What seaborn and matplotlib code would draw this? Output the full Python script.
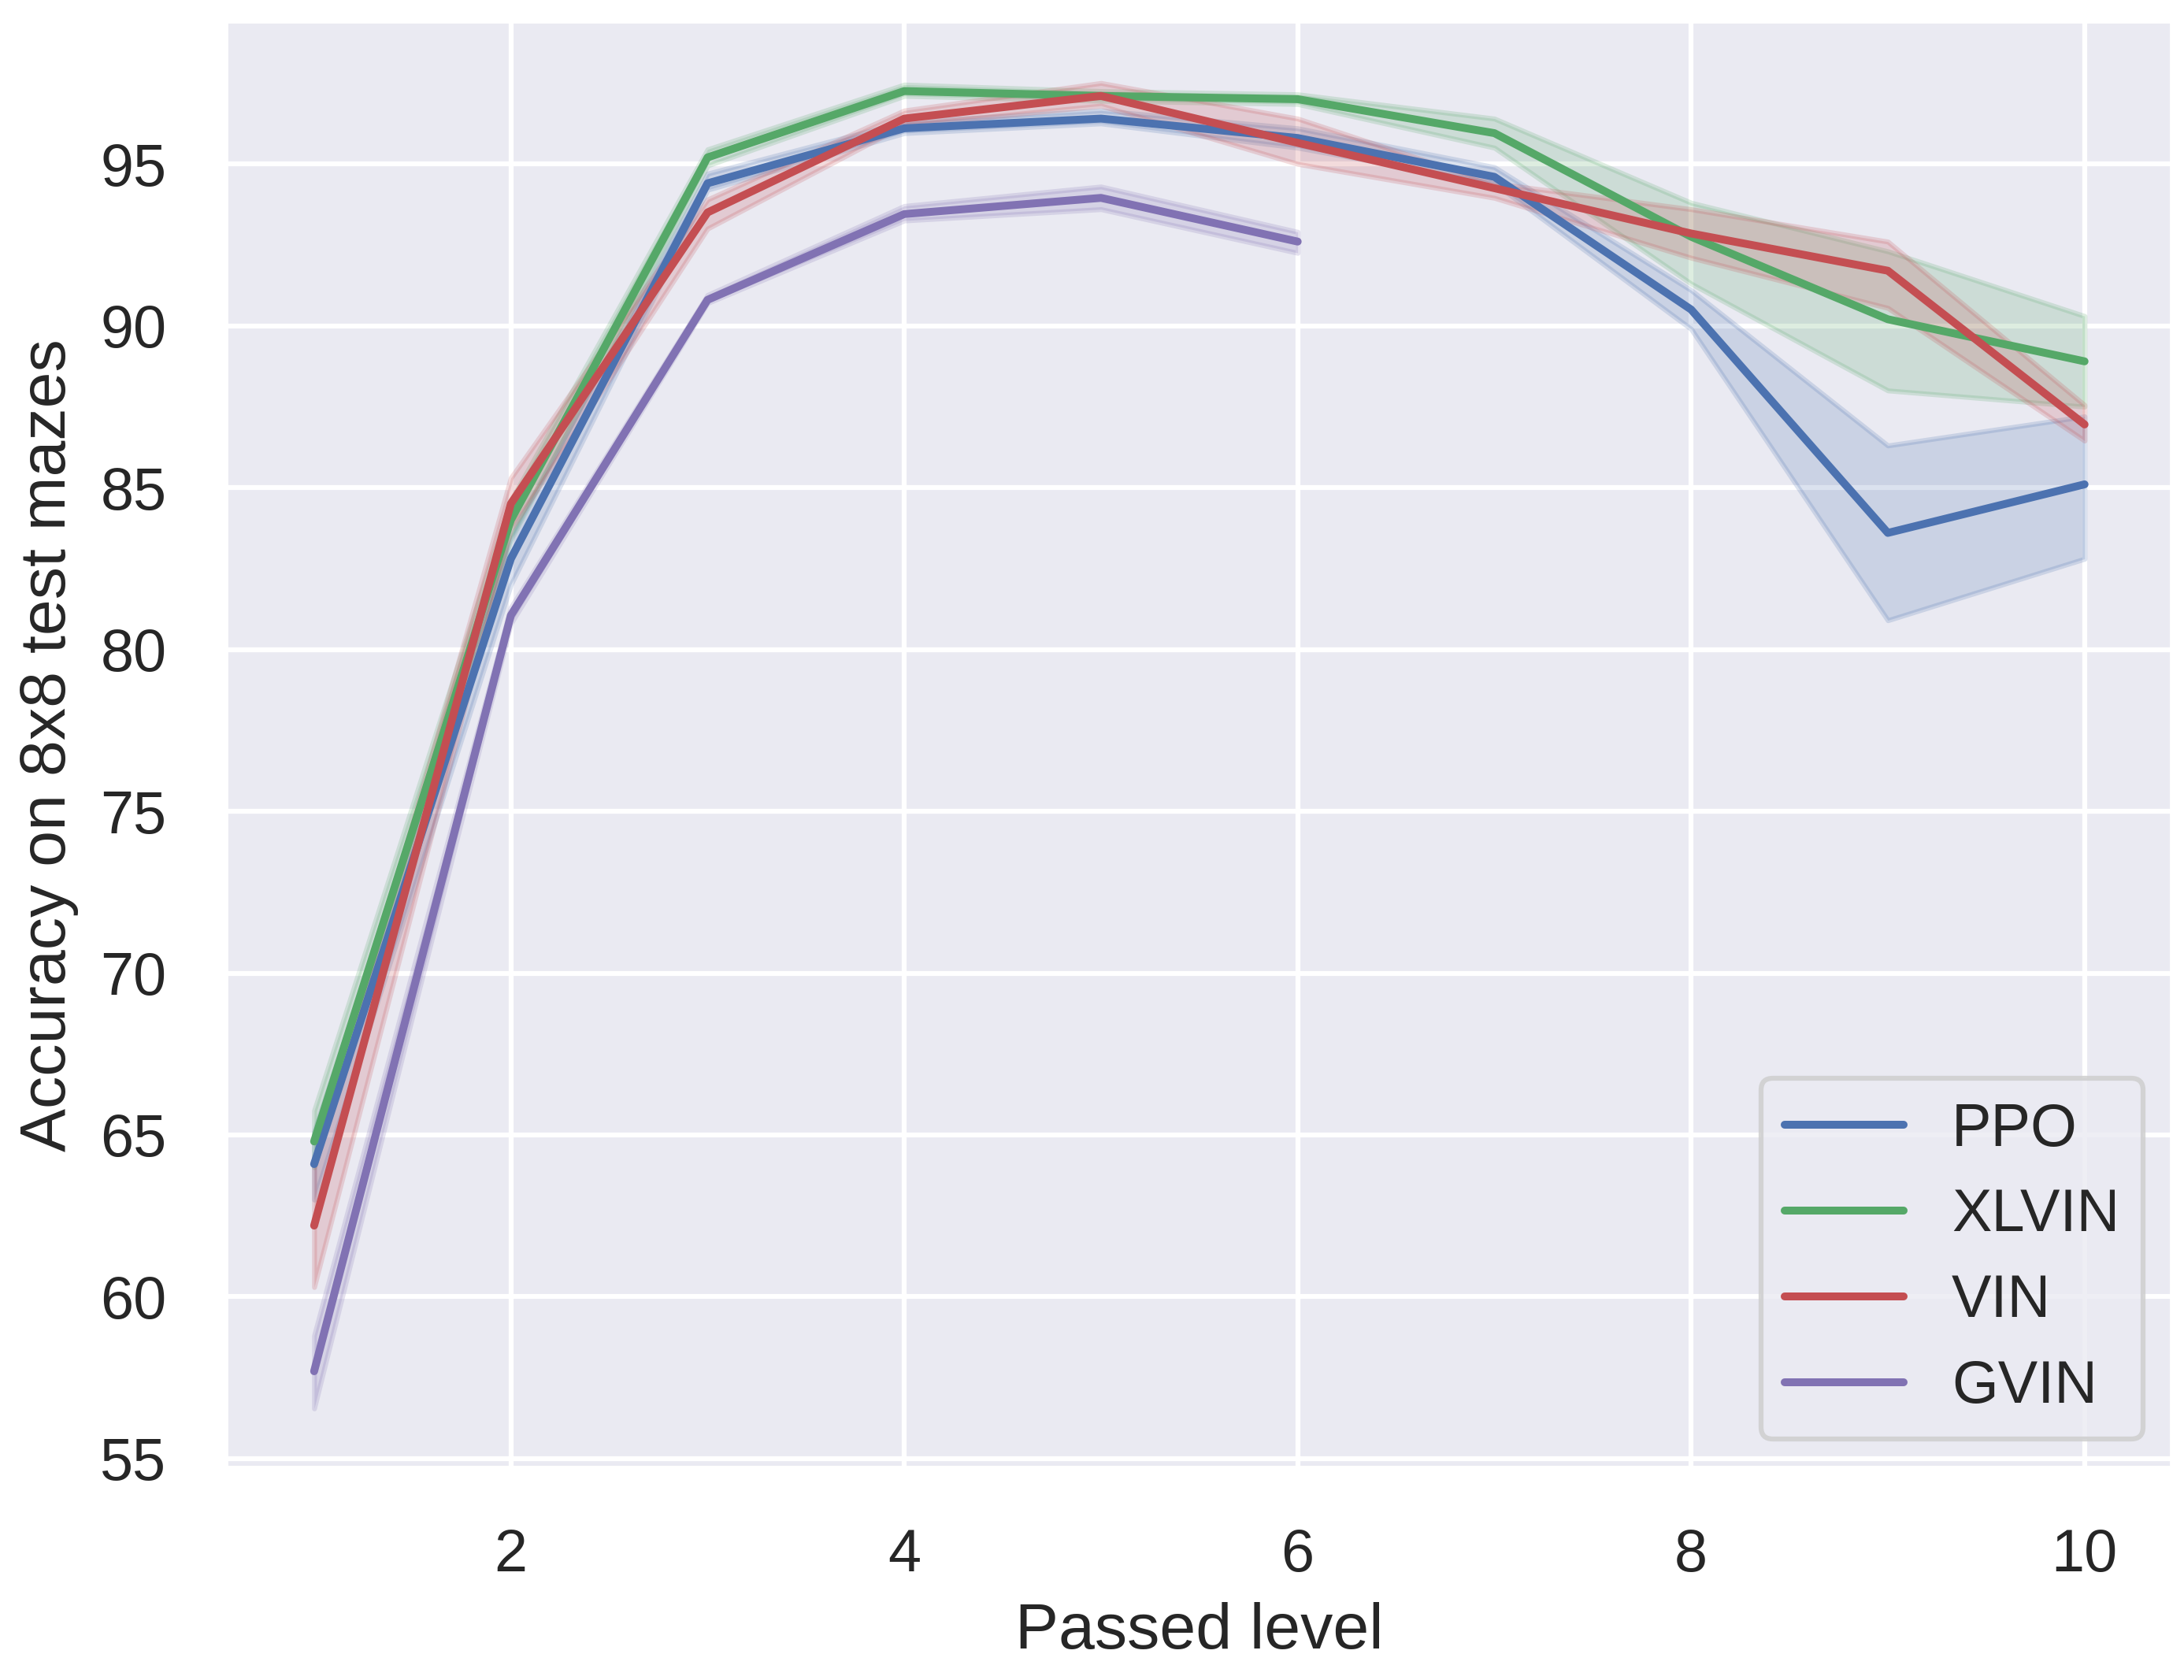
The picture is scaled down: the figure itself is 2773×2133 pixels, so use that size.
import numpy as np
import pandas as pd
import matplotlib
matplotlib.use("Agg")
import matplotlib.pyplot as plt
import seaborn as sns

# ---------------- data ----------------
levels = [1, 2, 3, 4, 5, 6, 7, 8, 9, 10]

ppo_mean  = [64.1, 82.8, 94.4, 96.1, 96.4, 95.8, 94.6, 90.5, 83.6, 85.1]
ppo_low   = [63.0, 82.0, 94.2, 95.95, 96.25, 95.5, 94.4, 89.9, 80.9, 82.8]
ppo_high  = [65.1, 83.5, 94.7, 96.3, 96.65, 96.1, 94.9, 91.1, 86.3, 87.2]

xlvin_mean = [64.8, 84.0, 95.2, 97.25, 97.1, 97.0, 95.95, 92.75, 90.2, 88.9]
xlvin_low  = [64.0, 83.4, 94.95, 97.1, 96.95, 96.85, 95.5, 91.3, 88.0, 87.5]
xlvin_high = [65.75, 84.6, 95.45, 97.45, 97.25, 97.15, 96.4, 93.8, 92.3, 90.3]

vin_mean = [62.2, 84.5, 93.5, 96.4, 97.1, 95.65, 94.25, 92.85, 91.7, 86.95]
vin_low  = [60.3, 83.7, 93.0, 96.2, 96.8, 95.0, 93.95, 92.1, 90.55, 86.45]
vin_high = [64.0, 85.3, 93.9, 96.65, 97.5, 96.4, 94.4, 93.6, 92.6, 87.55]

gvin_levels = [1, 2, 3, 4, 5, 6]
gvin_mean = [57.7, 81.05, 90.8, 93.45, 93.95, 92.6]
gvin_low  = [56.55, 80.8, 90.7, 93.25, 93.6, 92.25]
gvin_high = [58.8, 81.3, 90.95, 93.7, 94.3, 92.9]

methods = ["PPO", "XLVIN", "VIN", "GVIN"]

# ---------------- style ----------------
sns.set_theme(style="darkgrid", context="talk", font_scale=1.1)
plt.rcParams["font.family"] = ["Liberation Sans", "DejaVu Sans"]

deep = sns.color_palette("deep")
palette = {"PPO": deep[0], "XLVIN": deep[2], "VIN": deep[3], "GVIN": deep[4]}

series = {
    "PPO":   (levels, ppo_mean, ppo_low, ppo_high),
    "XLVIN": (levels, xlvin_mean, xlvin_low, xlvin_high),
    "VIN":   (levels, vin_mean, vin_low, vin_high),
    "GVIN":  (gvin_levels, gvin_mean, gvin_low, gvin_high),
}

frames = []
for name in methods:
    xs, ys, _, _ = series[name]
    frames.append(pd.DataFrame({"Passed level": xs, "acc": ys, "method": name}))
df = pd.concat(frames, ignore_index=True)

fig, ax = plt.subplots(figsize=(2773 / 300, 2133 / 300), dpi=300)
fig.subplots_adjust(left=0.1033, right=0.995, top=0.9876, bottom=0.1256)

sns.lineplot(data=df, x="Passed level", y="acc", hue="method",
             hue_order=methods, palette=palette, errorbar=None,
             linewidth=2.4, ax=ax)

# shaded bands
for name in methods:
    xs, _, lo, hi = series[name]
    ax.fill_between(xs, lo, hi, color=palette[name], alpha=0.2)

ax.set_ylim(54.68, 99.42)
ax.set_yticks([55, 60, 65, 70, 75, 80, 85, 90, 95])
ax.tick_params(axis="both", pad=9)
ax.set_xlabel("Passed level", labelpad=5.5)
ax.set_ylabel("Accuracy on 8x8 test mazes", labelpad=6.5)

sns.move_legend(ax, "lower right", title=None)

plt.savefig("out.png", dpi=300)
print("saved out.png")
